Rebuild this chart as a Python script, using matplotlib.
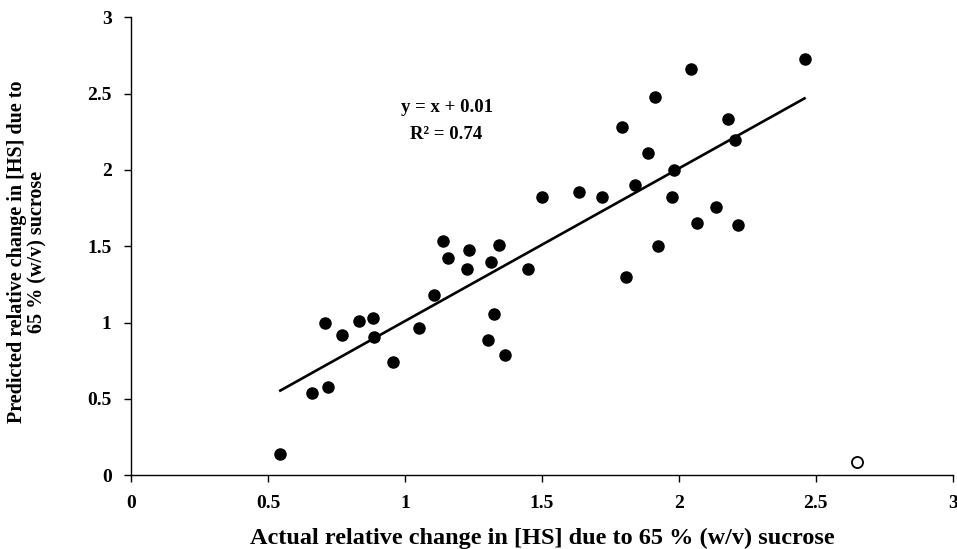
import numpy as np
import matplotlib.pyplot as plt

# actual vs predicted relative change (filled points)
actual = [0.545, 0.661, 0.720, 0.709, 0.771, 0.831, 0.882, 0.887, 0.957, 1.052,
          1.105, 1.156, 1.226, 1.235, 1.313, 1.326, 1.304, 1.366, 1.450, 1.138,
          1.343, 1.499, 1.636, 2.459, 2.043, 1.914, 1.793, 2.179, 2.204, 1.886,
          1.982, 1.841, 1.719, 1.974, 2.137, 2.065, 2.215, 1.925, 1.809]
predicted = [0.138, 0.537, 0.579, 1.000, 0.921, 1.011, 1.029, 0.908, 0.745, 0.963,
             1.181, 1.424, 1.350, 1.478, 1.400, 1.055, 0.887, 0.788, 1.352, 1.537,
             1.509, 1.822, 1.856, 2.724, 2.660, 2.475, 2.283, 2.333, 2.195, 2.112,
             2.000, 1.900, 1.826, 1.826, 1.760, 1.655, 1.638, 1.501, 1.302]

# excluded point (open circle)
outlier_x = [2.651]
outlier_y = [0.087]

slope = 1.0
intercept = 0.01
tick_labels = ['0', '0.5', '1', '1.5', '2', '2.5', '3']

plt.rcParams['font.family'] = ['Liberation Serif', 'DejaVu Serif']
plt.rcParams['font.weight'] = 'bold'

fig = plt.figure(figsize=(9.57, 5.49), dpi=100)
ax = fig.add_axes([0.1369, 0.1342, 0.8586, 0.8343])

ax.plot(actual, predicted, 'o', color='black', markersize=8, zorder=3)
ax.plot(outlier_x, outlier_y, 'o', markerfacecolor='white', markeredgecolor='black',
        markersize=8, markeredgewidth=1.3, zorder=3)

# trend line across the filled points
xs = np.array([min(actual), max(actual)])
ax.plot(xs, slope * xs + intercept, color='black', linewidth=1.9, zorder=2)

ax.text(1.152, 2.41, "y = x + 0.01", ha='center', va='center',
        fontsize=13.5, fontweight='bold')
ax.text(1.152, 2.23, "R\u00b2 = 0.74", ha='center', va='center',
        fontsize=13.5, fontweight='bold')

ax.set_xlim(0, 3)
ax.set_ylim(0, 3)
ax.set_xticks(np.arange(0, 3.01, 0.5))
ax.set_yticks(np.arange(0, 3.01, 0.5))
ax.set_xticklabels(tick_labels)
ax.set_yticklabels(tick_labels)

for s in ['top', 'right']:
    ax.spines[s].set_visible(False)
for s in ['left', 'bottom']:
    ax.spines[s].set_linewidth(1.0)
ax.tick_params(axis='x', direction='out', length=5, width=1, pad=9, labelsize=14)
ax.tick_params(axis='y', direction='out', length=5, width=1, pad=9, labelsize=14)
for lab in ax.get_xticklabels() + ax.get_yticklabels():
    lab.set_fontweight('bold')

ax.set_xlabel("Actual relative change in [HS] due to 65 % (w/v) sucrose",
              fontsize=17.5, fontweight='bold', va='center')
ax.xaxis.set_label_coords(0.5, -0.137)
ax.set_ylabel("Predicted relative change in [HS] due to\n65 % (w/v) sucrose",
              fontsize=14.5, fontweight='bold', va='center', ha='center', linespacing=1.0)
ax.yaxis.set_label_coords(-0.1265, 0.4875)

fig.savefig("out.png", dpi=100)
